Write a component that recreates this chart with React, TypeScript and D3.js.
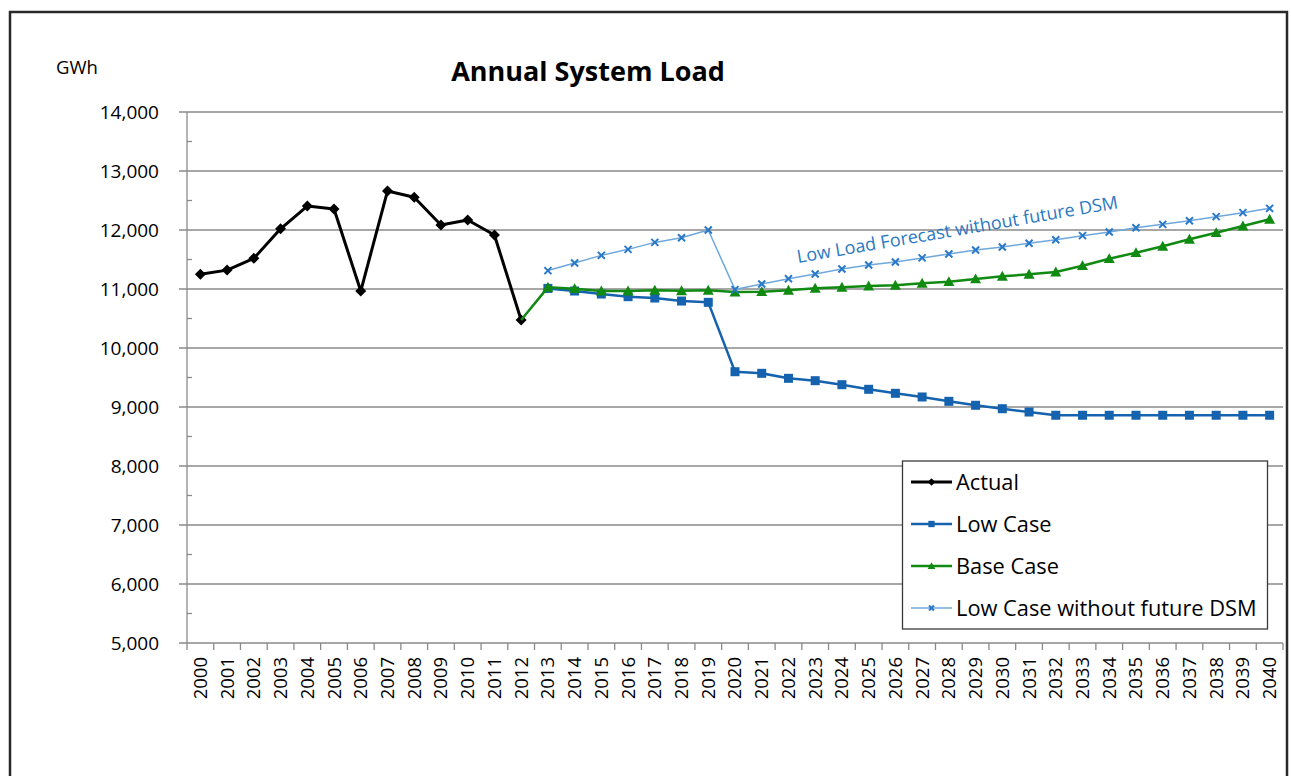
import * as d3 from "d3";

const W = 1291;
const H = 776;
const MARGIN = { top: 112, right: 8, bottom: 133, left: 187 };

const years = [
  "2000", "2001", "2002", "2003", "2004", "2005", "2006", "2007", "2008", "2009",
  "2010", "2011", "2012", "2013", "2014", "2015", "2016", "2017", "2018", "2019",
  "2020", "2021", "2022", "2023", "2024", "2025", "2026", "2027", "2028", "2029",
  "2030", "2031", "2032", "2033", "2034", "2035", "2036", "2037", "2038", "2039",
  "2040",
];

// 2000 - 2012
const actual = [11250, 11320, 11520, 12020, 12405, 12355, 10965, 12660, 12555, 12085, 12170, 11915, 10475];
// 2013 - 2040
const lowCase = [
  11010, 10966, 10915, 10870, 10847, 10796, 10774, 9598, 9571, 9486, 9446, 9378, 9300, 9232,
  9170, 9096, 9029, 8971, 8915, 8860, 8860, 8860, 8860, 8860, 8860, 8860, 8860, 8860,
];
// 2012 - 2040 (2012 point is the joining value, drawn without marker)
const baseCase = [
  10475, 11028, 11005, 10966, 10966, 10977, 10970, 10977, 10949, 10955, 10977, 11011, 11028,
  11050, 11062, 11096, 11124, 11170, 11215, 11249, 11288, 11395, 11514, 11616, 11724, 11842,
  11954, 12068, 12181,
];
// 2013 - 2040
const lowNoDsm = [
  11312, 11440, 11570, 11672, 11790, 11870, 12000, 10990, 11085, 11175, 11255, 11340, 11407,
  11457, 11527, 11593, 11661, 11712, 11775, 11836, 11904, 11966, 12039, 12096, 12158, 12226,
  12294, 12367,
];

const yTicks = [5000, 6000, 7000, 8000, 9000, 10000, 11000, 12000, 13000, 14000];
const yMinor = [5500, 6500, 7500, 8500, 9500, 10500, 11500, 12500, 13500];

const FONT = "'Open Sans', sans-serif";
const GRID = "#8a8a8a";

type Pt = { year: string; v: number };
const toPts = (start: string, vals: number[]): Pt[] => {
  const i0 = years.indexOf(start);
  return vals.map((v, i) => ({ year: years[i0 + i], v }));
};

const series = [
  { name: "Actual", data: toPts("2000", actual), color: "#000000", width: 3, marker: "diamond", markColor: "#000000", skipFirst: false },
  { name: "Low Case", data: toPts("2013", lowCase), color: "#1562ae", width: 2.5, marker: "square", markColor: "#1562ae", skipFirst: false },
  { name: "Base Case", data: toPts("2012", baseCase), color: "#118a11", width: 2.5, marker: "triangle", markColor: "#118a11", skipFirst: true },
  { name: "Low Case without future DSM", data: toPts("2013", lowNoDsm), color: "#6fa8dc", width: 1.5, marker: "x", markColor: "#2a78c8", skipFirst: false },
];

const Marker = ({ kind, x, y, color, s = 1 }: { kind: string; x: number; y: number; color: string; s?: number }) => {
  if (kind === "diamond") {
    const r = 5.5 * s;
    return <path d={`M${x},${y - r}L${x + r},${y}L${x},${y + r}L${x - r},${y}Z`} fill={color} />;
  }
  if (kind === "square") {
    const r = 4.5 * s;
    return <rect x={x - r} y={y - r} width={2 * r} height={2 * r} fill={color} />;
  }
  if (kind === "triangle") {
    const r = 5.5 * s;
    return <path d={`M${x},${y - r}L${x + r},${y + r * 0.8}L${x - r},${y + r * 0.8}Z`} fill={color} />;
  }
  const r = 3.5 * s;
  return (
    <path
      d={`M${x - r},${y - r}L${x + r},${y + r}M${x - r},${y + r}L${x + r},${y - r}`}
      stroke={color}
      strokeWidth={2}
    />
  );
};

export default function App() {
  const x = d3
    .scaleBand<string>()
    .domain(years)
    .range([MARGIN.left, 1283])
    .padding(0);
  const y = d3.scaleLinear().domain([5000, 14000]).range([643, MARGIN.top]);
  const bw = x.bandwidth();
  const cx = (yr: string) => (x(yr) as number) + bw / 2;

  const line = d3
    .line<Pt>()
    .x((d) => cx(d.year))
    .y((d) => y(d.v));

  const fmt = d3.format(",");
  const legendY = [482, 524, 566, 608];

  return (
    <svg
      width={W}
      height={H}
      style={{ position: "absolute", left: 0, top: 0, background: "#fff" }}
      fontFamily={FONT}
    >
      <rect x={10} y={12} width={1277} height={800} fill="#fff" stroke="#2a2a2a" strokeWidth={2.5} />

      {/* title and unit */}
      <text x={588} y={81} textAnchor="middle" fontSize={27} fontWeight="bold" fill="#000">
        Annual System Load
      </text>
      <text x={56} y={74} fontSize={18.5} fill="#000">
        GWh
      </text>

      {/* grid + y axis */}
      {yTicks.map((t) => (
        <g key={t}>
          <line x1={179} x2={1283} y1={y(t)} y2={y(t)} stroke={GRID} strokeWidth={1.3} />
          <text x={159} y={y(t)} dy="0.35em" textAnchor="end" fontSize={19} fill="#000">
            {fmt(t)}
          </text>
        </g>
      ))}
      {yMinor.map((t) => (
        <line key={t} x1={187} x2={192} y1={y(t)} y2={y(t)} stroke={GRID} strokeWidth={1.3} />
      ))}
      <line x1={187} x2={187} y1={MARGIN.top} y2={643} stroke={GRID} strokeWidth={1.3} />

      {/* x axis */}
      {years.map((yr) => (
        <g key={yr}>
          <line x1={(x(yr) as number) + bw} x2={(x(yr) as number) + bw} y1={643} y2={650} stroke={GRID} strokeWidth={1.3} />
          <text
            transform={`translate(${cx(yr)},657) rotate(-90)`}
            textAnchor="end"
            dy="0.35em"
            fontSize={18.5}
            fill="#000"
          >
            {yr}
          </text>
        </g>
      ))}
      <line x1={187} x2={187} y1={643} y2={650} stroke={GRID} strokeWidth={1.3} />

      {/* series */}
      {series.map((s) => (
        <g key={s.name}>
          <path d={line(s.data) || ""} fill="none" stroke={s.color} strokeWidth={s.width} strokeLinejoin="round" />
          {s.data.map((d, i) =>
            s.skipFirst && i === 0 ? null : (
              <Marker key={d.year} kind={s.marker} x={cx(d.year)} y={y(d.v)} color={s.markColor} />
            )
          )}
        </g>
      ))}

      {/* annotation */}
      <text transform={`translate(798,263) rotate(-9.7)`} fontSize={18} fill="#2b79c2">
        Low Load Forecast without future DSM
      </text>

      {/* legend */}
      <rect x={902.5} y={461} width={365} height={168} fill="#fff" stroke="#3a3a3a" strokeWidth={1.3} />
      {series.map((s, i) => (
        <g key={s.name}>
          <line x1={911} x2={952} y1={legendY[i]} y2={legendY[i]} stroke={s.color} strokeWidth={s.width} />
          <Marker kind={s.marker} x={931.5} y={legendY[i]} color={s.markColor} s={0.7} />
          <text x={956} y={legendY[i]} dy="0.35em" fontSize={21.8} fill="#000">
            {s.name}
          </text>
        </g>
      ))}
    </svg>
  );
}
